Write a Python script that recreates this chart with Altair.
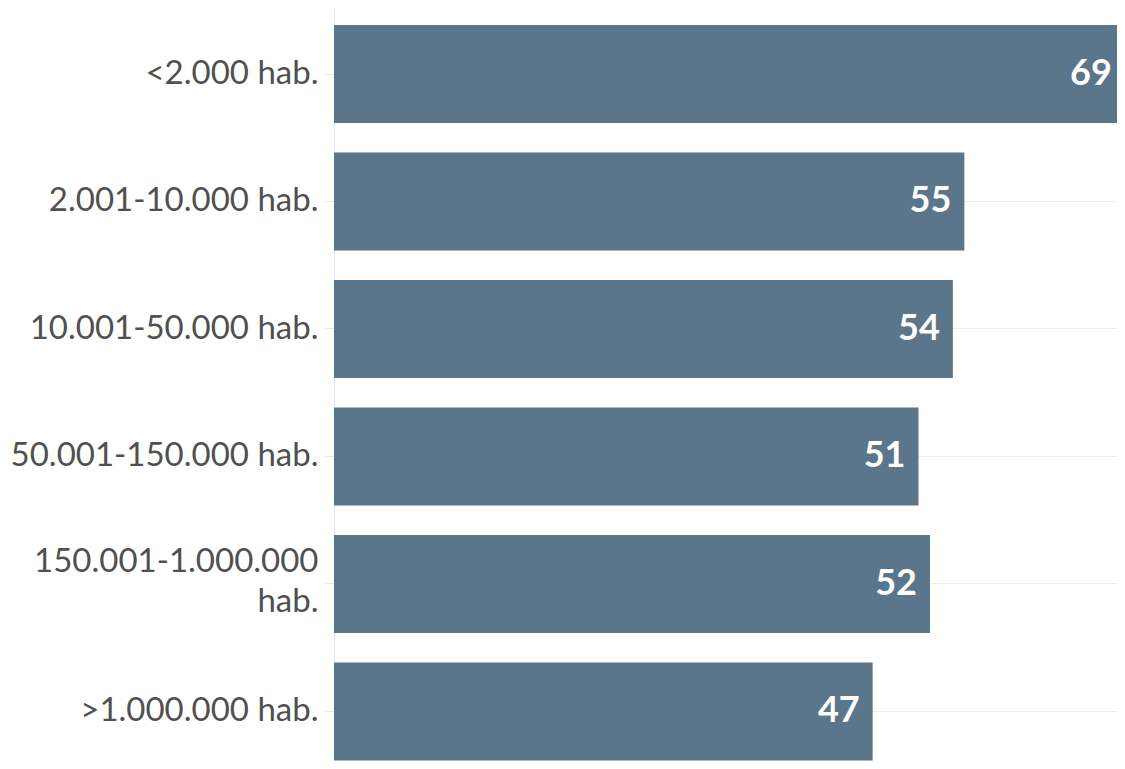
import altair as alt
import pandas as pd

categories = [
    "<2.000 hab.",
    "2.001-10.000 hab.",
    "10.001-50.000 hab.",
    "50.001-150.000 hab.",
    "150.001-1.000.000 hab.",
    ">1.000.000 hab.",
]
values = [69, 55, 54, 51, 52, 47]

df = pd.DataFrame({"category": categories, "value": values})

FONT = "Lato"
LONG = "150.001-1.000.000 hab."

y_enc = alt.Y(
    "category:N",
    sort=None,
    scale=alt.Scale(paddingInner=0.231, paddingOuter=0.0686, align=0.971),
    axis=alt.Axis(
        title=None,
        labelFont=FONT,
        labelFontSize=33,
        labelColor="#505050",
        labelPadding=6,
        labelLineHeight=40,
        labelLimit=400,
        labelOffset={"condition": {"test": f"datum.value == '{LONG}'", "value": -22}, "value": 0},
        tickColor="#e8e8e8",
        tickSize=10,
        domainColor="#e8e8e8",
        grid=True,
        gridColor="#ececec",
        bandPosition=0.5,
        minExtent=326,
        maxExtent=326,
        labelExpr=f"datum.label == '{LONG}' ? ['150.001-1.000.000', 'hab.'] : datum.label",
    ),
)
x_enc = alt.X(
    "value:Q",
    scale=alt.Scale(domain=[0, 68.32], nice=False, zero=True),
    axis=None,
)

base = alt.Chart(df).encode(y=y_enc, x=x_enc)

bars = base.mark_bar(color="#5b758b", clip=True)
labels = base.mark_text(
    align="right",
    baseline="middle",
    dx=-13,
    color="white",
    font=FONT,
    fontWeight="bold",
    fontSize=36,
).encode(text="value:Q")

chart = (
    (bars + labels)
    .properties(width=783, height=753, padding={"left": 0, "top": 0, "right": 0, "bottom": 0})
    .configure_view(strokeWidth=0)
)

chart.save("out.html", embed_options={"renderer": "svg", "actions": False})
